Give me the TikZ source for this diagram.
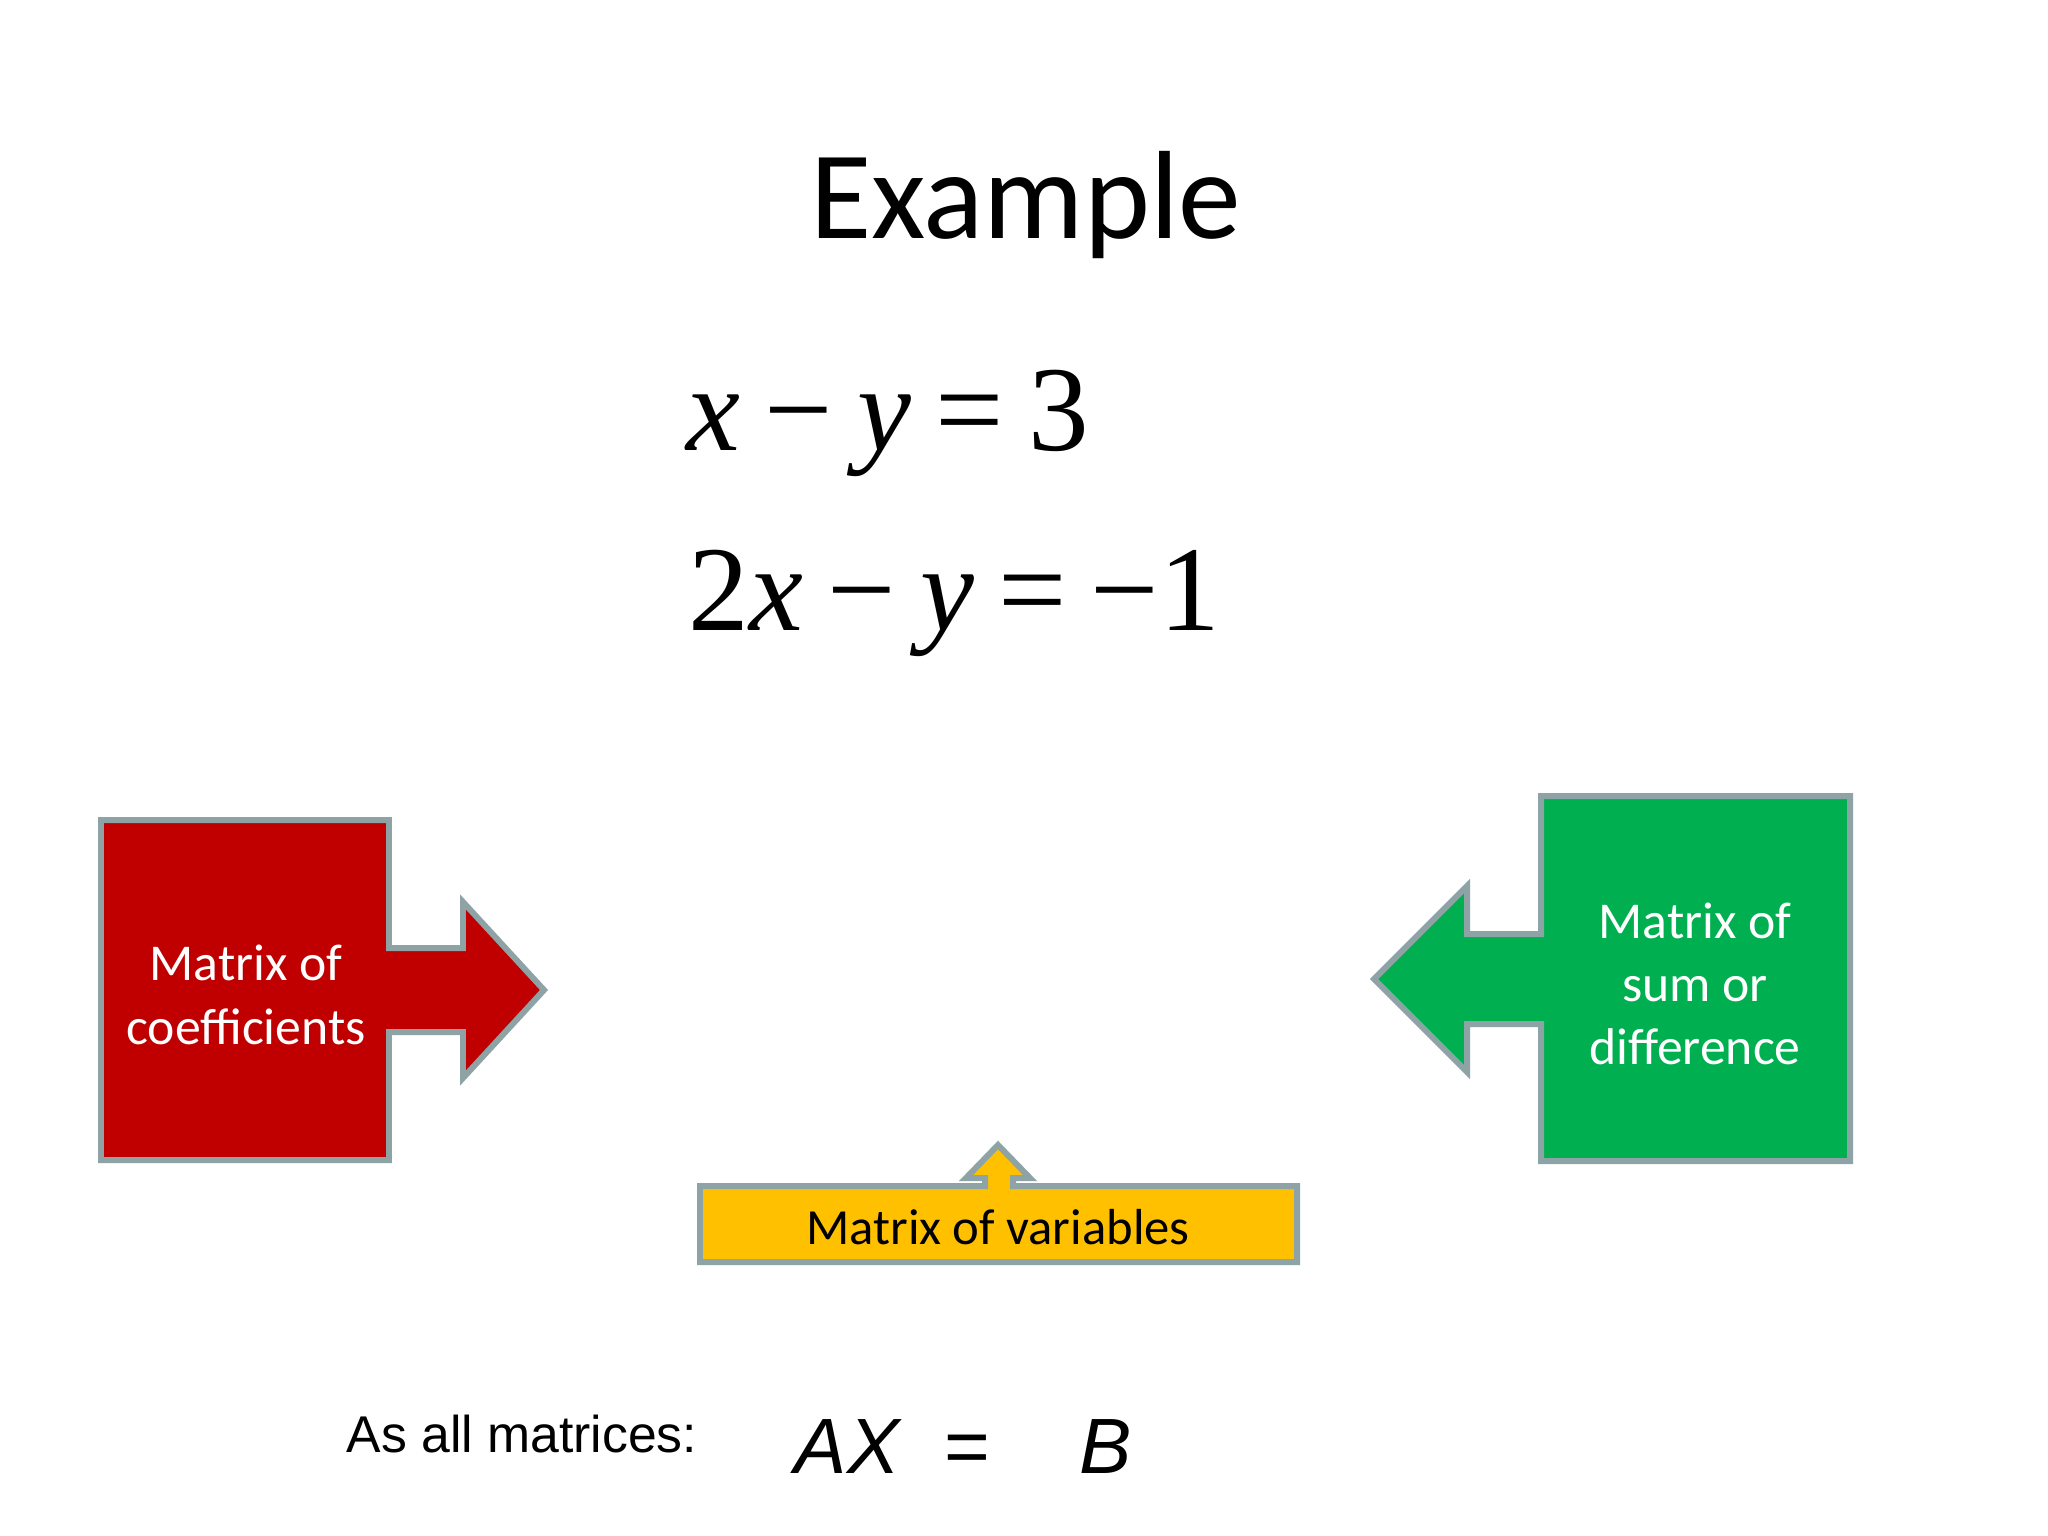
\documentclass[tikz,border=0pt]{standalone}
\usepackage{fontspec}
\usepackage{tikz}
\setmainfont{Carlito}
\newfontfamily\eqfont{Liberation Serif}
\newfontfamily\arialfont{Liberation Sans}
\definecolor{calloutred}{RGB}{192,0,0}
\definecolor{calloutgreen}{RGB}{0,176,80}
\definecolor{calloutgold}{RGB}{255,192,0}
\definecolor{edgegrey}{RGB}{142,163,166}
\newcommand{\eqgap}{\hspace{0.2em}}

\begin{document}
\begin{tikzpicture}[x=0.01cm,y=-0.01cm,
  callout/.style={draw=edgegrey,line width=1.7pt,line join=miter},
  every node/.style={align=center,inner sep=0pt}]
  \useasboundingbox[fill=white] (0,0) rectangle (2048,1536);
  \node[font=\fontsize{35.7}{42}\selectfont,anchor=base] (title) at (1026,238) {Example};
  \node[font=\eqfont\fontsize{34.5}{40}\selectfont,anchor=base west] (eqone) at (686,450)
    {\textit{x}\eqgap−\eqgap\textit{y}\eqgap=\eqgap3};
  \node[font=\eqfont\fontsize{34.5}{40}\selectfont,anchor=base west] (eqtwo) at (688,630)
    {2\textit{x}\eqgap−\eqgap\textit{y}\eqgap=\eqgap−1};
  % coefficients
  \filldraw[callout,fill=calloutred] (101,820) -- (389,820) -- (389,948) -- (463,948) -- (463,902) -- (544,990)
    -- (463,1078) -- (463,1032) -- (389,1032) -- (389,1160) -- (101,1160) -- cycle;
  \node[text=white,font=\fontsize{14.7}{18}\selectfont] (coef) at (246,995) {Matrix of\\coefficients};
  % sum or difference
  \filldraw[callout,fill=calloutgreen] (1541,796) -- (1850,796) -- (1850,1161) -- (1541,1161) -- (1541,1024)
    -- (1467,1024) -- (1467,1072) -- (1374,979) -- (1467,886) -- (1467,934) -- (1541,934) -- cycle;
  \node[text=white,font=\fontsize{14.7}{18}\selectfont] (sumdiff) at (1695,984) {Matrix of\\sum or\\difference};
  % variables
  \filldraw[callout,fill=calloutgold] (700,1186) -- (985,1186) -- (985,1178) -- (966,1178) -- (998,1145)
    -- (1030,1178) -- (1013,1178) -- (1013,1186) -- (1297,1186) -- (1297,1262) -- (700,1262) -- cycle;
  \node[font=\fontsize{14.4}{18}\selectfont,anchor=base] (vars) at (998,1244) {Matrix of variables};
  \node[font=\arialfont\fontsize{14.7}{18}\selectfont,anchor=base west] (asall) at (346,1452) {As all matrices:};
  \node[font=\arialfont\itshape\fontsize{22.3}{27}\selectfont,anchor=base west] (ax) at (794,1473) {AX};
  \node[font=\arialfont\fontsize{22.3}{27}\selectfont,anchor=base west] (eqsign) at (944,1473) {=};
  \node[font=\arialfont\itshape\fontsize{22.3}{27}\selectfont,anchor=base west] (bee) at (1079,1473) {B};
\end{tikzpicture}
\end{document}
